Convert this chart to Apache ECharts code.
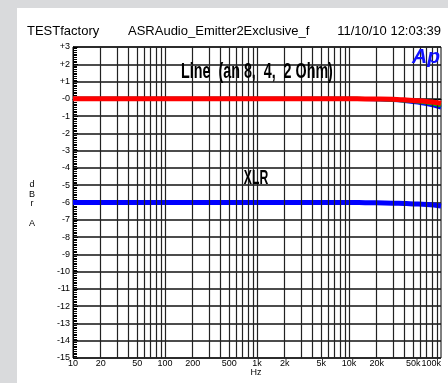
<!DOCTYPE html>
<html><head><meta charset="utf-8">
<script src="https://cdn.jsdelivr.net/npm/echarts@6/dist/echarts.min.js"></script>
<style>html,body{margin:0;padding:0;background:#d9dadc;}#c{width:448px;height:383px;}</style>
</head><body><div id="c"></div>
<script>
// Data
var freqs = [10, 20, 50, 100, 200, 500, 1000, 2000, 5000, 10000, 15000, 20000, 30000, 40000, 50000, 70000, 100000];
var lineRed   = [0, 0, 0, 0, 0, 0, 0, 0, 0, 0, -0.005, -0.01, -0.03, -0.06, -0.09, -0.15, -0.26];
var lineGreen = [0, 0, 0, 0, 0, 0, 0, 0, 0, 0, -0.005, -0.02, -0.05, -0.09, -0.13, -0.22, -0.38];
var lineBlue  = [0, 0, 0, 0, 0, 0, 0, 0, 0, 0, -0.01, -0.03, -0.07, -0.12, -0.18, -0.3, -0.5];
var xlrBlue   = [-6, -6, -6, -6, -6, -6, -6, -6, -6, -6, -6.01, -6.02, -6.04, -6.06, -6.08, -6.12, -6.2];
var xTickValues = [10, 20, 50, 100, 200, 500, 1000, 2000, 5000, 10000, 20000, 50000, 100000];
var xTickLabels = ['10', '20', '50', '100', '200', '500', '1k', '2k', '5k', '10k', '20k', '50k', '100k'];
var gridFreqs = [20,30,40,50,60,70,80,90,100,200,300,400,500,600,700,800,900,1000,2000,3000,4000,5000,6000,7000,8000,9000,10000,20000,30000,40000,50000,60000,70000,80000,90000];
var yTickValues = [3,2,1,0,-1,-2,-3,-4,-5,-6,-7,-8,-9,-10,-11,-12,-13,-14,-15];
var yTickLabels = ['+3','+2','+1','-0','-1','-2','-3','-4','-5','-6','-7','-8','-9','-10','-11','-12','-13','-14','-15'];

function pairs(ys){ return freqs.map(function(f,i){ return [f, ys[i]]; }); }

var chart = echarts.init(document.getElementById('c'), null, {renderer:'canvas'});
var ff = '"Liberation Sans", Arial, sans-serif';
chart.setOption({
  animation: false,
  backgroundColor: '#d9dadc',
  textStyle: {fontFamily: ff},
  graphic: [
    {type:'rect', z:-10, shape:{x:17, y:8, width:431, height:375}, style:{fill:'#ffffff'}},
    {type:'text', left:27, top:25, style:{text:'TESTfactory', font:'13px '+ff, fill:'#000'}},
    {type:'text', left:128, top:25, style:{text:'ASRAudio_Emitter2Exclusive_f', font:'13px '+ff, fill:'#000'}},
    {type:'text', right:7, top:25, style:{text:'11/10/10 12:03:39', font:'13px '+ff, fill:'#000'}},
    {type:'text', x:32, y:180, style:{text:'d\nB\nr\n\nA', font:'9px '+ff, fill:'#000', lineHeight:9.6, align:'center'}},
    {type:'text', x:256, y:373, z:100, style:{text:'Hz', font:'9px '+ff, fill:'#000', align:'center', verticalAlign:'middle'}},
    {type:'text', x:426, y:57, z:100, style:{text:'Ap', font:'italic bold 21px '+ff, fill:'#1010ff', align:'center', verticalAlign:'middle'}},
    {type:'text', x:257, y:72, z:100, scaleX:0.65, style:{text:'Line  (an 8,  4,  2 Ohm)', font:'bold 22px '+ff, fill:'#000', align:'center', verticalAlign:'middle'}},
    {type:'text', x:256, y:178, z:100, scaleX:0.58, style:{text:'XLR', font:'bold 21px '+ff, fill:'#000', align:'center', verticalAlign:'middle'}}
  ],
  grid: {left:73, top:47, right:7, bottom:25, show:true, borderColor:'#000', borderWidth:1, backgroundColor:'transparent'},
  xAxis: {
    type:'log', logBase:10, min:10, max:100000,
    axisLine:{show:true, lineStyle:{color:'#000', width:1}},
    axisTick:{show:false},
    splitLine:{show:false},
    minorTick:{show:false},
    axisLabel:{
      customValues: xTickValues,
      alignMaxLabel:'right',
      margin:1, fontSize:9, color:'#000', fontFamily:ff,
      formatter:function(v){ var i = xTickValues.indexOf(Math.round(v)); return i>=0 ? xTickLabels[i] : ''; }
    }
  },
  yAxis: {
    type:'value', min:-15, max:3, interval:1,
    axisLine:{show:true, lineStyle:{color:'#000', width:1}},
    axisTick:{show:true, inside:true, length:5, lineStyle:{color:'#000'}},
    minorTick:{show:true, splitNumber:10, length:4, lineStyle:{color:'#000', width:1}},
    splitLine:{show:true, lineStyle:{color:'#111', width:1.5}},
    axisLabel:{
      margin:3, fontSize:9, color:'#000', fontFamily:ff,
      formatter:function(v){ var i = yTickValues.indexOf(Math.round(v)); return i>=0 ? yTickLabels[i] : ''; }
    }
  },
  series: [
    {type:'line', z:1, data:[], silent:true,
     markLine:{silent:true, symbol:'none', label:{show:false}, animation:false,
       lineStyle:{color:'#222', width:1.2, type:'solid'},
       data: gridFreqs.map(function(f){ return {xAxis:f}; })}},
    {type:'line', z:3, data:pairs(xlrBlue), showSymbol:false, smooth:true, lineStyle:{color:'#0000ff', width:5}},
    {type:'line', z:3, data:pairs(lineBlue), showSymbol:false, smooth:true, lineStyle:{color:'#0000ff', width:4}},
    {type:'line', z:4, data:pairs(lineGreen), showSymbol:false, smooth:true, lineStyle:{color:'#00c000', width:4}},
    {type:'line', z:5, data:pairs(lineRed), showSymbol:false, smooth:true, lineStyle:{color:'#ff0000', width:5}}
  ]
});
</script></body></html>
